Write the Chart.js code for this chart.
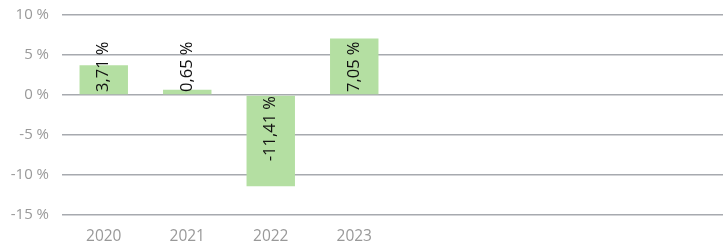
<!DOCTYPE html>
<html>
<head>
<meta charset="utf-8">
<script src="https://cdn.jsdelivr.net/npm/chart.js@4"></script>
<style>
  html, body { margin: 0; padding: 0; background: #fff; overflow: hidden; }
  #wrap { width: 730px; height: 244px; }
</style>
</head>
<body>
<div id="wrap"><canvas id="chart"></canvas></div>
<script>
// years shown on the axis, the rest of the slots are left empty
const years = ["2020", "2021", "2022", "2023", "", "", "", ""];
const returns = [3.71, 0.65, -11.41, 7.05, null, null, null, null];
const yTicks = [-15, -10, -5, 0, 5, 10];

const fmt = v => v.toFixed(2).replace(".", ",") + " %";

// draws the value labels rotated, starting at the zero line
const baseLabels = {
  id: "baseLabels",
  afterDatasetsDraw(chart) {
    const ctx = chart.ctx;
    const yScale = chart.scales.y;
    const zero = yScale.getPixelForValue(0);
    const meta = chart.getDatasetMeta(0);
    ctx.save();
    ctx.font = "16.5px 'Open Sans'";
    ctx.fillStyle = "#111";
    ctx.textBaseline = "middle";
    meta.data.forEach((bar, i) => {
      const v = returns[i];
      if (v == null) return;
      ctx.save();
      ctx.translate(bar.x, zero);
      ctx.rotate(-Math.PI / 2);
      if (v >= 0) {
        ctx.textAlign = "left";
        ctx.fillText(fmt(v), 3, 0);
      } else {
        ctx.textAlign = "right";
        ctx.fillText(fmt(v), -1, 0);
      }
      ctx.restore();
    });
    ctx.restore();
  }
};

new Chart(document.getElementById("chart"), {
  type: "bar",
  data: {
    labels: years,
    datasets: [{
      data: returns,
      backgroundColor: "#b4dfa2",
      borderWidth: 0,
      categoryPercentage: 1,
      barPercentage: 0.58
    }]
  },
  options: {
    responsive: true,
    maintainAspectRatio: false,
    animation: false,
    layout: { padding: { left: 0, top: 15, right: 0, bottom: 0 } },
    plugins: { legend: { display: false }, tooltip: { enabled: false } },
    scales: {
      x: {
        grid: { display: false, drawTicks: false },
        border: { display: false },
        afterFit: axis => { axis.height = 29; },
        ticks: {
          color: "#999",
          font: { family: "'Open Sans'", size: 15.5, lineHeight: 1 },
          padding: 14,
          maxRotation: 0,
          autoSkip: false
        }
      },
      y: {
        min: yTicks[0],
        max: yTicks[yTicks.length - 1],
        afterBuildTicks: axis => { axis.ticks = yTicks.map(v => ({ value: v })); },
        afterFit: axis => {
          axis.width = 62;
          axis.paddingTop = 0;
          axis.paddingBottom = 0;
        },
        grid: { color: "#a7aaaf", lineWidth: 1.5, drawTicks: false },
        border: { display: false },
        ticks: {
          color: "#999",
          font: { family: "'Open Sans'", size: 15 },
          padding: 13,
          callback: v => v + " %"
        }
      }
    }
  },
  plugins: [baseLabels]
});
</script>
</body>
</html>
